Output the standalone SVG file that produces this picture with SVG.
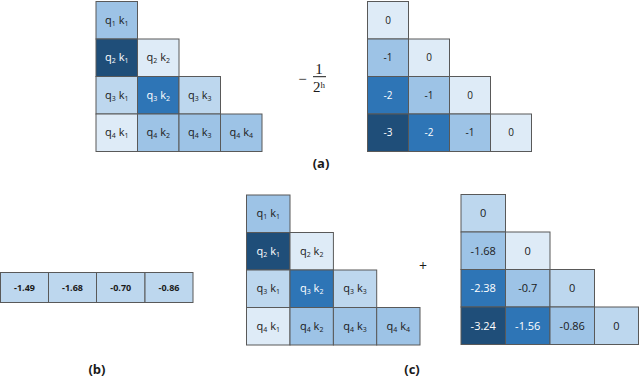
<svg xmlns="http://www.w3.org/2000/svg" width="640" height="377" viewBox="0 0 640 377">
<style>
.c{stroke:#595959;stroke-width:1}
.d0{fill:#1f4e79}.d1{fill:#2e75b6}.d2{fill:#9dc3e6}.d3{fill:#bdd7ee}.d4{fill:#deebf7}
text{font-family:"Open Sans","Liberation Sans",sans-serif;fill:#1a1a1a;text-anchor:middle}
.t{font-size:11px}
.w{fill:#ffffff}
.s{font-size:7px}
.n{font-size:10px}
.b{font-size:9px;font-weight:bold}
.lab{font-size:13px;font-weight:bold}
.m{font-family:"Liberation Serif",serif;font-size:15px}
</style>
<rect width="640" height="377" fill="#ffffff"/>
<g id="gridA-left">
<rect class="c d2" x="96" y="1.5" width="41.5" height="37.5"/>
<rect class="c d0" x="96" y="39" width="41.5" height="37.5"/>
<rect class="c d4" x="137.5" y="39" width="41.5" height="37.5"/>
<rect class="c d3" x="96" y="76.5" width="41.5" height="37.5"/>
<rect class="c d1" x="137.5" y="76.5" width="41.5" height="37.5"/>
<rect class="c d3" x="179" y="76.5" width="41.5" height="37.5"/>
<rect class="c d4" x="96" y="114" width="41.5" height="37.5"/>
<rect class="c d2" x="137.5" y="114" width="41.5" height="37.5"/>
<rect class="c d2" x="179" y="114" width="41.5" height="37.5"/>
<rect class="c d2" x="220.5" y="114" width="41.5" height="37.5"/>
<text class="t" x="116.75" y="23.5">q<tspan class="s" dy="2">1</tspan><tspan dy="-2"> k</tspan><tspan class="s" dy="2">1</tspan></text>
<text class="t w" x="116.75" y="61">q<tspan class="s" dy="2">2</tspan><tspan dy="-2"> k</tspan><tspan class="s" dy="2">1</tspan></text>
<text class="t" x="158.25" y="61">q<tspan class="s" dy="2">2</tspan><tspan dy="-2"> k</tspan><tspan class="s" dy="2">2</tspan></text>
<text class="t" x="116.75" y="98.5">q<tspan class="s" dy="2">3</tspan><tspan dy="-2"> k</tspan><tspan class="s" dy="2">1</tspan></text>
<text class="t w" x="158.25" y="98.5">q<tspan class="s" dy="2">3</tspan><tspan dy="-2"> k</tspan><tspan class="s" dy="2">2</tspan></text>
<text class="t" x="199.75" y="98.5">q<tspan class="s" dy="2">3</tspan><tspan dy="-2"> k</tspan><tspan class="s" dy="2">3</tspan></text>
<text class="t" x="116.75" y="136">q<tspan class="s" dy="2">4</tspan><tspan dy="-2"> k</tspan><tspan class="s" dy="2">1</tspan></text>
<text class="t" x="158.25" y="136">q<tspan class="s" dy="2">4</tspan><tspan dy="-2"> k</tspan><tspan class="s" dy="2">2</tspan></text>
<text class="t" x="199.75" y="136">q<tspan class="s" dy="2">4</tspan><tspan dy="-2"> k</tspan><tspan class="s" dy="2">3</tspan></text>
<text class="t" x="241.25" y="136">q<tspan class="s" dy="2">4</tspan><tspan dy="-2"> k</tspan><tspan class="s" dy="2">4</tspan></text>
</g>
<g id="fraction">
<text class="m" x="302.5" y="84">−</text>
<text class="m" x="319" y="73.5">1</text>
<line x1="313" y1="76.7" x2="326" y2="76.7" stroke="#1a1a1a" stroke-width="1"/>
<text class="m" x="319" y="92">2<tspan font-size="9px" dy="-4">h</tspan></text>
</g>
<g id="gridA-right">
<rect class="c d4" x="367.5" y="1.5" width="41" height="37.5"/>
<rect class="c d2" x="367.5" y="39" width="41" height="37.5"/>
<rect class="c d4" x="408.5" y="39" width="41" height="37.5"/>
<rect class="c d1" x="367.5" y="76.5" width="41" height="37.5"/>
<rect class="c d2" x="408.5" y="76.5" width="41" height="37.5"/>
<rect class="c d4" x="449.5" y="76.5" width="41" height="37.5"/>
<rect class="c d0" x="367.5" y="114" width="41" height="37.5"/>
<rect class="c d1" x="408.5" y="114" width="41" height="37.5"/>
<rect class="c d2" x="449.5" y="114" width="41" height="37.5"/>
<rect class="c d4" x="490.5" y="114" width="41" height="37.5"/>
<text class="n" x="388" y="23.5">0</text>
<text class="n" x="388" y="61">-1</text>
<text class="n" x="429" y="61">0</text>
<text class="n w" x="388" y="98.5">-2</text>
<text class="n" x="429" y="98.5">-1</text>
<text class="n" x="470" y="98.5">0</text>
<text class="n w" x="388" y="136">-3</text>
<text class="n w" x="429" y="136">-2</text>
<text class="n" x="470" y="136">-1</text>
<text class="n" x="511" y="136">0</text>
</g>
<g id="label-a"><text class="lab" x="321" y="168">(a)</text></g>
<g id="slopes-b">
<rect class="c d3" x="0.5" y="272.5" width="48" height="30"/>
<rect class="c d3" x="48.5" y="272.5" width="48" height="30"/>
<rect class="c d3" x="96.5" y="272.5" width="48.5" height="30"/>
<rect class="c d3" x="145" y="272.5" width="48" height="30"/>
<text class="b" x="24.5" y="291">-1.49</text>
<text class="b" x="72.5" y="291">-1.68</text>
<text class="b" x="120.75" y="291">-0.70</text>
<text class="b" x="169" y="291">-0.86</text>
</g>
<g id="label-b"><text class="lab" x="97" y="374">(b)</text></g>
<g id="gridC-left">
<rect class="c d2" x="246.5" y="195" width="43.5" height="37.5"/>
<rect class="c d0" x="246.5" y="232.5" width="43.5" height="37.5"/>
<rect class="c d4" x="290" y="232.5" width="43.4" height="37.5"/>
<rect class="c d3" x="246.5" y="270" width="43.5" height="37.5"/>
<rect class="c d1" x="290" y="270" width="43.4" height="37.5"/>
<rect class="c d3" x="333.4" y="270" width="43.3" height="37.5"/>
<rect class="c d4" x="246.5" y="307.5" width="43.5" height="37.5"/>
<rect class="c d2" x="290" y="307.5" width="43.4" height="37.5"/>
<rect class="c d2" x="333.4" y="307.5" width="43.3" height="37.5"/>
<rect class="c d2" x="376.7" y="307.5" width="43.3" height="37.5"/>
<text class="t" x="268.25" y="217">q<tspan class="s" dy="2">1</tspan><tspan dy="-2"> k</tspan><tspan class="s" dy="2">1</tspan></text>
<text class="t w" x="268.25" y="254.5">q<tspan class="s" dy="2">2</tspan><tspan dy="-2"> k</tspan><tspan class="s" dy="2">1</tspan></text>
<text class="t" x="311.7" y="254.5">q<tspan class="s" dy="2">2</tspan><tspan dy="-2"> k</tspan><tspan class="s" dy="2">2</tspan></text>
<text class="t" x="268.25" y="292">q<tspan class="s" dy="2">3</tspan><tspan dy="-2"> k</tspan><tspan class="s" dy="2">1</tspan></text>
<text class="t w" x="311.7" y="292">q<tspan class="s" dy="2">3</tspan><tspan dy="-2"> k</tspan><tspan class="s" dy="2">2</tspan></text>
<text class="t" x="355" y="292">q<tspan class="s" dy="2">3</tspan><tspan dy="-2"> k</tspan><tspan class="s" dy="2">3</tspan></text>
<text class="t" x="268.25" y="329.5">q<tspan class="s" dy="2">4</tspan><tspan dy="-2"> k</tspan><tspan class="s" dy="2">1</tspan></text>
<text class="t" x="311.7" y="329.5">q<tspan class="s" dy="2">4</tspan><tspan dy="-2"> k</tspan><tspan class="s" dy="2">2</tspan></text>
<text class="t" x="355" y="329.5">q<tspan class="s" dy="2">4</tspan><tspan dy="-2"> k</tspan><tspan class="s" dy="2">3</tspan></text>
<text class="t" x="398.3" y="329.5">q<tspan class="s" dy="2">4</tspan><tspan dy="-2"> k</tspan><tspan class="s" dy="2">4</tspan></text>
</g>
<g id="plus"><text x="423" y="270.5" style="font-size:14px">+</text></g>
<g id="gridC-right">
<rect class="c d3" x="461" y="194.5" width="44.5" height="37.5"/>
<rect class="c d2" x="461" y="232" width="44.5" height="37.5"/>
<rect class="c d4" x="505.5" y="232" width="44.5" height="37.5"/>
<rect class="c d1" x="461" y="269.5" width="44.5" height="37.5"/>
<rect class="c d2" x="505.5" y="269.5" width="44.5" height="37.5"/>
<rect class="c d3" x="550" y="269.5" width="44.5" height="37.5"/>
<rect class="c d0" x="461" y="307" width="44.5" height="37.5"/>
<rect class="c d1" x="505.5" y="307" width="44.5" height="37.5"/>
<rect class="c d2" x="550" y="307" width="44.5" height="37.5"/>
<rect class="c d3" x="594.5" y="307" width="44" height="37.5"/>
<text class="t" x="483.25" y="217">0</text>
<text class="t" x="483.25" y="254.5">-1.68</text>
<text class="t" x="527.75" y="254.5">0</text>
<text class="t w" x="483.25" y="292">-2.38</text>
<text class="t" x="527.75" y="292">-0.7</text>
<text class="t" x="572.25" y="292">0</text>
<text class="t w" x="483.25" y="329.5">-3.24</text>
<text class="t w" x="527.75" y="329.5">-1.56</text>
<text class="t" x="572.25" y="329.5">-0.86</text>
<text class="t" x="616.5" y="329.5">0</text>
</g>
<g id="label-c"><text class="lab" x="412" y="374">(c)</text></g>
<g id="connectors"/>
</svg>
